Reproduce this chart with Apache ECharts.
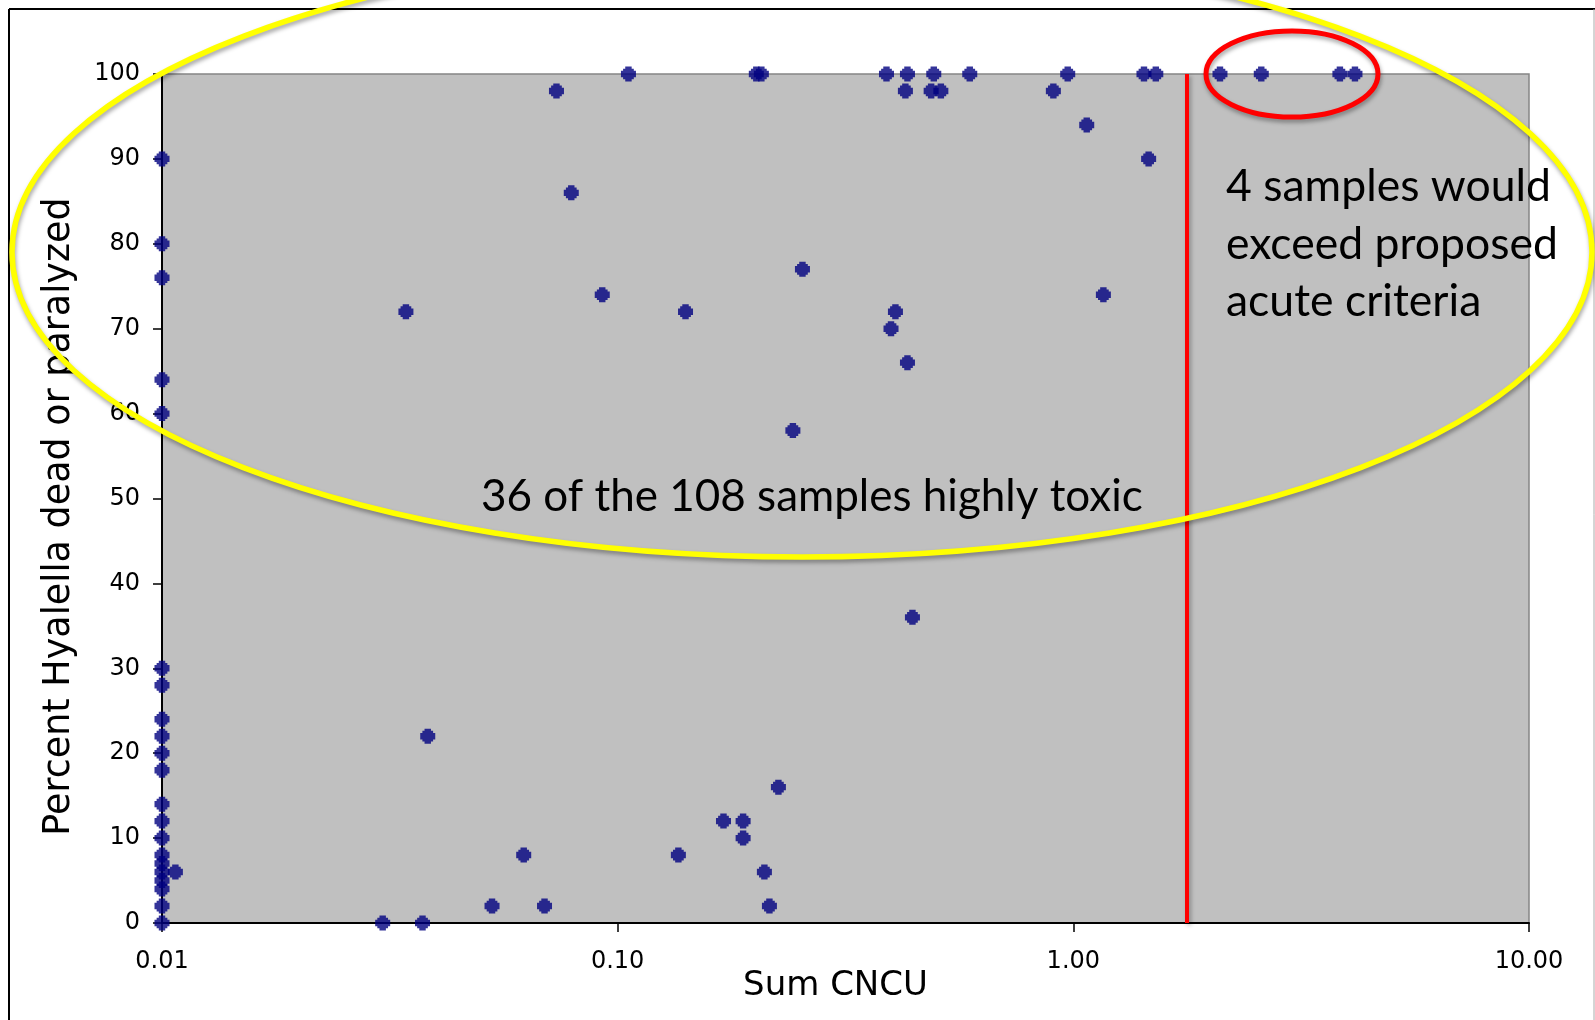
<!DOCTYPE html>
<html>
<head>
<meta charset="utf-8">
<title>Hyalella toxicity vs Sum CNCU</title>
<script src="https://cdn.jsdelivr.net/npm/echarts@6/dist/echarts.min.js"></script>
<style>
  html, body { margin: 0; padding: 0; background: #fff; }
  #chart { width: 1595px; height: 1020px; }
</style>
</head>
<body>
<div id="chart"></div>
<script>
// Sum CNCU per sample (x, log scale) and percent Hyalella dead or paralyzed (y)
var sumCncu = [
  0.01, 0.01, 0.01, 0.01, 0.01, 0.01, 0.01, 0.01, 0.01, 0.01, 0.01,
  0.01, 0.01, 0.01, 0.01, 0.01, 0.01, 0.01, 0.01, 0.01, 0.01, 0.0107,
  0.0305, 0.0343, 0.0373, 0.0383, 0.053, 0.0622, 0.0691, 0.0734, 0.0791, 0.0925,
  0.1056, 0.1359, 0.1409, 0.1707, 0.1885, 0.1885, 0.2015, 0.2067, 0.2099, 0.2153,
  0.2253, 0.2424, 0.2544, 0.389, 0.398, 0.407, 0.428, 0.4325, 0.4325, 0.4435,
  0.4875, 0.494, 0.512, 0.5925, 0.904, 0.972, 1.07, 1.164, 1.429, 1.463, 1.517,
  2.098, 2.585, 3.846, 4.15
];
var pctAffected = [
  90, 80, 76, 64, 60, 30, 28, 24, 22, 20, 18,
  14, 12, 10, 8, 7, 6, 5, 4, 2, 0, 6,
  0, 72, 0, 22, 2, 8, 2, 98, 86, 74,
  100, 8, 72, 12, 12, 10, 100, 100, 6, 2,
  16, 58, 77, 100, 70, 72, 98, 100, 66, 36,
  98, 100, 98, 100, 98, 100, 94, 74, 100, 90, 100,
  100, 100, 100, 100
];
// proposed acute criterion (red vertical line)
var acuteCriterion = 1.77;

var points = sumCncu.map(function (x, i) { return [x, pctAffected[i]]; });

var tickFont = 'DejaVu Sans, Verdana, sans-serif';
var noteFont = 'Lato, "Open Sans", sans-serif';

var chart = echarts.init(document.getElementById('chart'));
chart.setOption({
  animation: false,
  backgroundColor: '#fff',
  grid: {
    left: 162, right: 66, top: 74, bottom: 97,
    show: true,
    backgroundColor: '#c0c0c0',
    borderColor: '#858585',
    borderWidth: 1.5
  },
  xAxis: {
    type: 'log',
    logBase: 10,
    min: 0.01,
    max: 10,
    splitNumber: 3,
    name: 'Sum CNCU',
    nameLocation: 'middle',
    nameGap: 46,
    nameMoveOverlap: false,
    nameTextStyle: { fontFamily: tickFont, fontSize: 34, color: '#000', padding: [0, 20, 0, 0] },
    axisLine: { lineStyle: { color: '#000', width: 2 } },
    axisTick: { show: true, length: 9, lineStyle: { color: '#000', width: 1.5 } },
    minorTick: { show: false },
    splitLine: { show: false },
    axisLabel: {
      fontFamily: tickFont, fontSize: 24, color: '#000', margin: 27,
      formatter: function (v) { return v.toFixed(2); }
    }
  },
  yAxis: {
    type: 'value',
    min: 0,
    max: 100,
    interval: 10,
    name: 'Percent Hyalella dead or paralyzed',
    nameLocation: 'middle',
    nameRotate: 90,
    nameGap: 84,
    nameMoveOverlap: false,
    nameTextStyle: { fontFamily: tickFont, fontSize: 36.5, color: '#000', padding: [0, 36, 0, 0] },
    axisLine: { show: true, lineStyle: { color: '#000', width: 2 } },
    axisTick: { show: true, length: 9, lineStyle: { color: '#000', width: 1.5 } },
    splitLine: { show: false },
    axisLabel: { fontFamily: tickFont, fontSize: 24, color: '#000', margin: 22 }
  },
  series: [{
    type: 'scatter',
    data: points,
    clip: false,
    symbol: 'path://M4,0H10V2H12V4H14V10H12V12H10V14H4V12H2V10H0V4H2V2H4Z',
    symbolSize: 15,
    itemStyle: { color: '#000080' },
    z: 5,
    markLine: {
      silent: true,
      symbol: 'none',
      label: { show: false },
      lineStyle: {
        color: '#ff0000', width: 4, type: 'solid',
        shadowColor: 'rgba(0,0,0,0.3)', shadowBlur: 4, shadowOffsetX: 2, shadowOffsetY: 2
      },
      data: [{ xAxis: acuteCriterion }]
    }
  }],
  graphic: [
    // slide frame
    { type: 'line', shape: { x1: 9, y1: 9, x2: 1595, y2: 9 }, style: { stroke: '#000', lineWidth: 2 } },
    { type: 'line', shape: { x1: 9, y1: 9, x2: 9, y2: 1020 }, style: { stroke: '#000', lineWidth: 2 } },
    { type: 'line', shape: { x1: 1594, y1: 9, x2: 1594, y2: 1020 }, style: { stroke: '#aaa', lineWidth: 1 } },
    // notes
    {
      type: 'text', left: 481, top: 475, z: 50,
      style: { text: '36 of the 108 samples highly toxic', font: '44px ' + noteFont, fill: '#000' }
    },
    {
      type: 'text', left: 1226, top: 158, z: 50,
      style: {
        text: '4 samples would\nexceed proposed\nacute criteria',
        font: '44.5px ' + noteFont, fill: '#000', lineHeight: 57.5
      }
    },
    // hand-drawn ellipses
    {
      type: 'ellipse', z: 60,
      shape: { cx: 802, cy: 252, rx: 790, ry: 305 },
      style: {
        fill: 'none', stroke: '#ffff00', lineWidth: 5.5,
        shadowColor: 'rgba(0,0,0,0.35)', shadowBlur: 4, shadowOffsetX: 1, shadowOffsetY: 3
      }
    },
    {
      type: 'ellipse', z: 60,
      shape: { cx: 1292, cy: 74, rx: 86, ry: 43 },
      style: {
        fill: 'none', stroke: '#ff0000', lineWidth: 5,
        shadowColor: 'rgba(0,0,0,0.35)', shadowBlur: 4, shadowOffsetX: 1, shadowOffsetY: 3
      }
    }
  ]
});
</script>
</body>
</html>
